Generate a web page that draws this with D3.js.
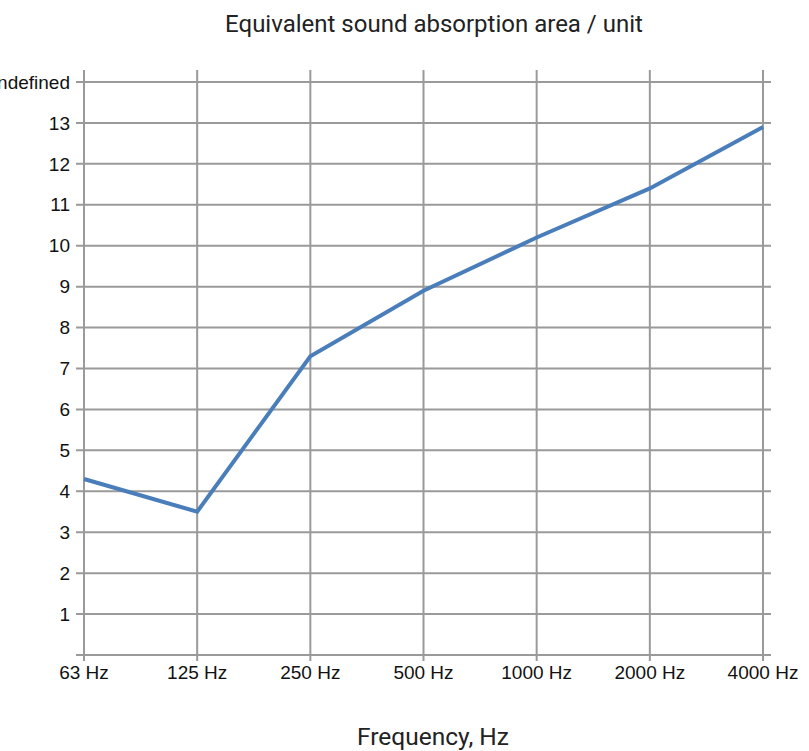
<!DOCTYPE html>
<html>
<head>
<meta charset="utf-8">
<script src="https://cdn.jsdelivr.net/npm/d3@7"></script>
<style>
  body { margin: 0; background: #fff; }
  svg { display: block; }
</style>
</head>
<body>
<div id="chart"></div>
<script>
// Daten
const frequencies = ["63 Hz", "125 Hz", "250 Hz", "500 Hz", "1000 Hz", "2000 Hz", "4000 Hz"];
const absorption = [4.3, 3.5, 7.3, 8.9, 10.2, 11.4, 12.9];
const yTicks = [0, 1, 2, 3, 4, 5, 6, 7, 8, 9, 10, 11, 12, 13, 14];
const yTickLabels = ["", "1", "2", "3", "4", "5", "6", "7", "8", "9", "10", "11", "12", "13", "undefined"];

const W = 809, H = 751;
const margin = { top: 82, right: 46, bottom: 96, left: 84 };
const width = 763 - margin.left;
const height = 655 - margin.top;

const svg = d3.select("#chart")
    .append("svg")
    .attr("width", W)
    .attr("height", H);

const g = svg.append("g")
    .attr("transform", `translate(${margin.left},${margin.top})`);

// Skalen
const xScale = d3.scalePoint().domain(frequencies).range([0, width]);
const yScale = d3.scaleLinear().domain([0, 14]).range([height, 0]);

const gridColor = "#9a9a9a";

// horizontale Gitterlinien
g.selectAll(".hgrid")
    .data(yTicks)
    .join("line")
    .attr("class", "hgrid")
    .attr("x1", -8)
    .attr("x2", width + 8)
    .attr("y1", d => yScale(d))
    .attr("y2", d => yScale(d))
    .attr("stroke", gridColor)
    .attr("stroke-width", 2);

// vertikale Gitterlinien
g.selectAll(".vgrid")
    .data(frequencies)
    .join("line")
    .attr("class", "vgrid")
    .attr("x1", d => xScale(d))
    .attr("x2", d => xScale(d))
    .attr("y1", -12)
    .attr("y2", height + 6)
    .attr("stroke", gridColor)
    .attr("stroke-width", 2);

const tickFont = "'Liberation Sans', Arial, sans-serif";

// Y-Achsenbeschriftung
g.selectAll(".ylabel")
    .data(yTicks)
    .join("text")
    .attr("class", "ylabel")
    .attr("x", -14)
    .attr("y", d => yScale(d))
    .attr("dy", "0.35em")
    .attr("text-anchor", "end")
    .style("font-family", tickFont)
    .style("font-size", "19px")
    .style("fill", "#111")
    .text((d, i) => yTickLabels[i]);

// X-Achsenbeschriftung
g.selectAll(".xlabel")
    .data(frequencies)
    .join("text")
    .attr("class", "xlabel")
    .attr("x", d => xScale(d))
    .attr("y", height + 24)
    .attr("text-anchor", "middle")
    .style("font-family", tickFont)
    .style("font-size", "19px")
    .style("fill", "#111")
    .text(d => d);

// Linie
const line = d3.line()
    .x((d, i) => xScale(frequencies[i]))
    .y(d => yScale(d));

g.append("path")
    .datum(absorption)
    .attr("d", line)
    .attr("fill", "none")
    .attr("stroke", "#4a7ebb")
    .attr("stroke-width", 4)
    .attr("stroke-linejoin", "miter");

// Titel
svg.append("text")
    .attr("x", 434)
    .attr("y", 32)
    .attr("text-anchor", "middle")
    .style("font-family", "Roboto, sans-serif")
    .style("font-size", "24px")
    .style("fill", "#222")
    .text("Equivalent sound absorption area / unit");

svg.append("text")
    .attr("x", 433)
    .attr("y", 745)
    .attr("text-anchor", "middle")
    .style("font-family", "Roboto, sans-serif")
    .style("font-size", "24.5px")
    .style("fill", "#222")
    .text("Frequency, Hz");
</script>
</body>
</html>
